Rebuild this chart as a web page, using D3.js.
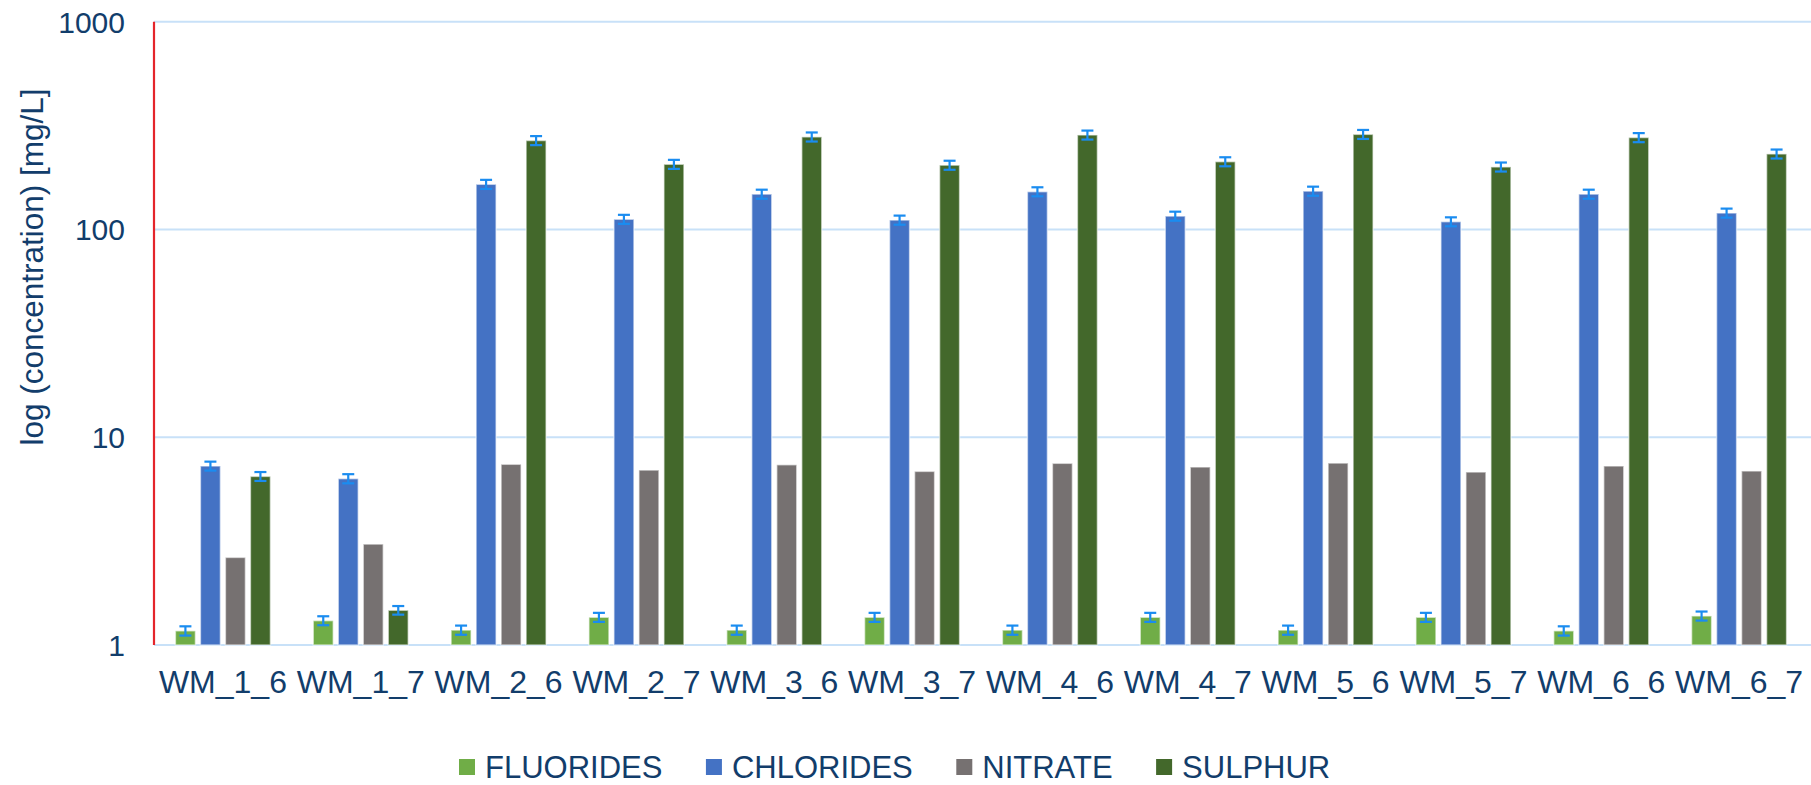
<!DOCTYPE html>
<html>
<head>
<meta charset="utf-8">
<script src="https://cdn.jsdelivr.net/npm/d3@7"></script>
<style>
  html, body { margin: 0; padding: 0; background: #ffffff; }
  svg { display: block; }
  text { font-family: "Liberation Sans", Arial, sans-serif; fill: #123d6b; }
</style>
</head>
<body>
<svg id="chart" width="1811" height="785"></svg>
<script>
// Sampling points
const categories = ["WM_1_6", "WM_1_7", "WM_2_6", "WM_2_7", "WM_3_6", "WM_3_7",
                    "WM_4_6", "WM_4_7", "WM_5_6", "WM_5_7", "WM_6_6", "WM_6_7"];

// Series names as shown in the legend
const seriesNames = ["FLUORIDES", "CHLORIDES", "NITRATE", "SULPHUR"];

// Concentrations [mg/L]
const fluorides = [1.17, 1.31, 1.18, 1.36, 1.18, 1.36, 1.18, 1.36, 1.18, 1.36, 1.17, 1.38];
const chlorides = [7.27, 6.32, 165, 112, 148, 111, 152, 116, 153, 109, 148, 120];
const nitrate   = [2.64, 3.06, 7.41, 6.95, 7.37, 6.85, 7.49, 7.19, 7.51, 6.80, 7.27, 6.88];
const sulphur   = [6.48, 1.47, 268, 206, 279, 204, 285, 212, 287, 200, 277, 231];

// Standard deviations (no error bars for nitrate)
const fluoridesErr = [0.06, 0.065, 0.06, 0.068, 0.06, 0.068, 0.06, 0.068, 0.06, 0.068, 0.06, 0.069];
const chloridesErr = [0.36, 0.32, 8.3, 5.6, 7.4, 5.6, 7.6, 5.8, 7.7, 5.4, 7.4, 6.0];
const nitrateErr   = null;
const sulphurErr   = [0.32, 0.07, 13.4, 10.3, 14.0, 10.2, 14.2, 10.6, 14.3, 10.0, 13.9, 11.5];

// Axis ticks
const yTicks = [1, 10, 100, 1000];

const seriesValues = [fluorides, chlorides, nitrate, sulphur];
const seriesErrors = [fluoridesErr, chloridesErr, nitrateErr, sulphurErr];
const colors = ["#70ad47", "#4472c4", "#767171", "#43682b"];

const svg = d3.select("#chart");
const margin = { left: 154, right: 3, top: 21.7, bottom: 140 };
const W = 1811, H = 785;
const plotBottom = 645;

const x0 = d3.scaleBand()
  .domain(categories)
  .range([margin.left, W - margin.right])
  .padding(0);

const groupWidth = 100;
const x1 = d3.scaleBand()
  .domain(seriesNames)
  .range([0, groupWidth])
  .paddingInner(0.2)
  .paddingOuter(0.1);

const y = d3.scaleLog()
  .domain([1, 1000])
  .range([plotBottom, margin.top]);

// Horizontal gridlines
svg.append("g")
  .selectAll("line")
  .data(yTicks)
  .join("line")
  .attr("x1", margin.left)
  .attr("x2", W)
  .attr("y1", d => y(d))
  .attr("y2", d => y(d))
  .attr("stroke", "#c8e1f8")
  .attr("stroke-width", 2);

// Y tick labels
svg.append("g")
  .selectAll("text")
  .data(yTicks)
  .join("text")
  .attr("x", 125)
  .attr("y", d => y(d))
  .attr("dy", "0.36em")
  .attr("text-anchor", "end")
  .attr("font-size", 30)
  .text(d => d3.format("d")(d));

// Y axis title
svg.append("text")
  .attr("transform", `translate(43, 267) rotate(-90)`)
  .attr("text-anchor", "middle")
  .attr("font-size", 31.5)
  .text("log (concentration) [mg/L]");

// Bars
const rows = categories.map((c, i) => ({
  cat: c,
  items: seriesNames.map((s, k) => ({
    series: s,
    color: colors[k],
    value: seriesValues[k][i],
    err: seriesErrors[k] ? seriesErrors[k][i] : null
  }))
}));

const groups = svg.append("g")
  .selectAll("g")
  .data(rows)
  .join("g")
  .attr("transform", d => `translate(${x0(d.cat) + (x0.bandwidth() - groupWidth) / 2},0)`);

groups.selectAll("rect")
  .data(d => d.items)
  .join("rect")
  .attr("x", d => x1(d.series))
  .attr("width", x1.bandwidth())
  .attr("y", d => y(d.value))
  .attr("height", d => y(1) - y(d.value))
  .attr("fill", d => d.color)
  .attr("stroke", "rgba(255,255,255,0.55)")
  .attr("stroke-width", 1.5);

// Error bars
const errs = groups.selectAll("g.err")
  .data(d => d.items.filter(e => e.err != null))
  .join("g")
  .attr("class", "err")
  .attr("stroke", "#1a8cf0")
  .attr("stroke-width", 2.2);

const capHalf = 6;
errs.append("line")
  .attr("x1", d => x1(d.series) + x1.bandwidth() / 2)
  .attr("x2", d => x1(d.series) + x1.bandwidth() / 2)
  .attr("y1", d => y(d.value + d.err))
  .attr("y2", d => y(d.value - d.err));
errs.append("line")
  .attr("x1", d => x1(d.series) + x1.bandwidth() / 2 - capHalf)
  .attr("x2", d => x1(d.series) + x1.bandwidth() / 2 + capHalf)
  .attr("y1", d => y(d.value + d.err))
  .attr("y2", d => y(d.value + d.err));
errs.append("line")
  .attr("x1", d => x1(d.series) + x1.bandwidth() / 2 - capHalf)
  .attr("x2", d => x1(d.series) + x1.bandwidth() / 2 + capHalf)
  .attr("y1", d => y(d.value - d.err))
  .attr("y2", d => y(d.value - d.err));

// Left axis line
svg.append("line")
  .attr("x1", margin.left)
  .attr("x2", margin.left)
  .attr("y1", margin.top)
  .attr("y2", plotBottom)
  .attr("stroke", "#e4252b")
  .attr("stroke-width", 2.2);

// Category labels
svg.append("g")
  .selectAll("text")
  .data(categories)
  .join("text")
  .attr("x", d => x0(d) + x0.bandwidth() / 2)
  .attr("y", 693)
  .attr("text-anchor", "middle")
  .attr("font-size", 32)
  .text(d => d);

// Legend
const legend = svg.append("g");
let lx = 459;
seriesNames.forEach((s, k) => {
  legend.append("rect")
    .attr("x", lx)
    .attr("y", 759)
    .attr("width", 16)
    .attr("height", 16)
    .attr("fill", colors[k]);
  const t = legend.append("text")
    .attr("x", lx + 26)
    .attr("y", 778)
    .attr("font-size", 31)
    .text(s);
  lx += 26 + t.node().getComputedTextLength() + 43.5;
});
</script>
</body>
</html>
